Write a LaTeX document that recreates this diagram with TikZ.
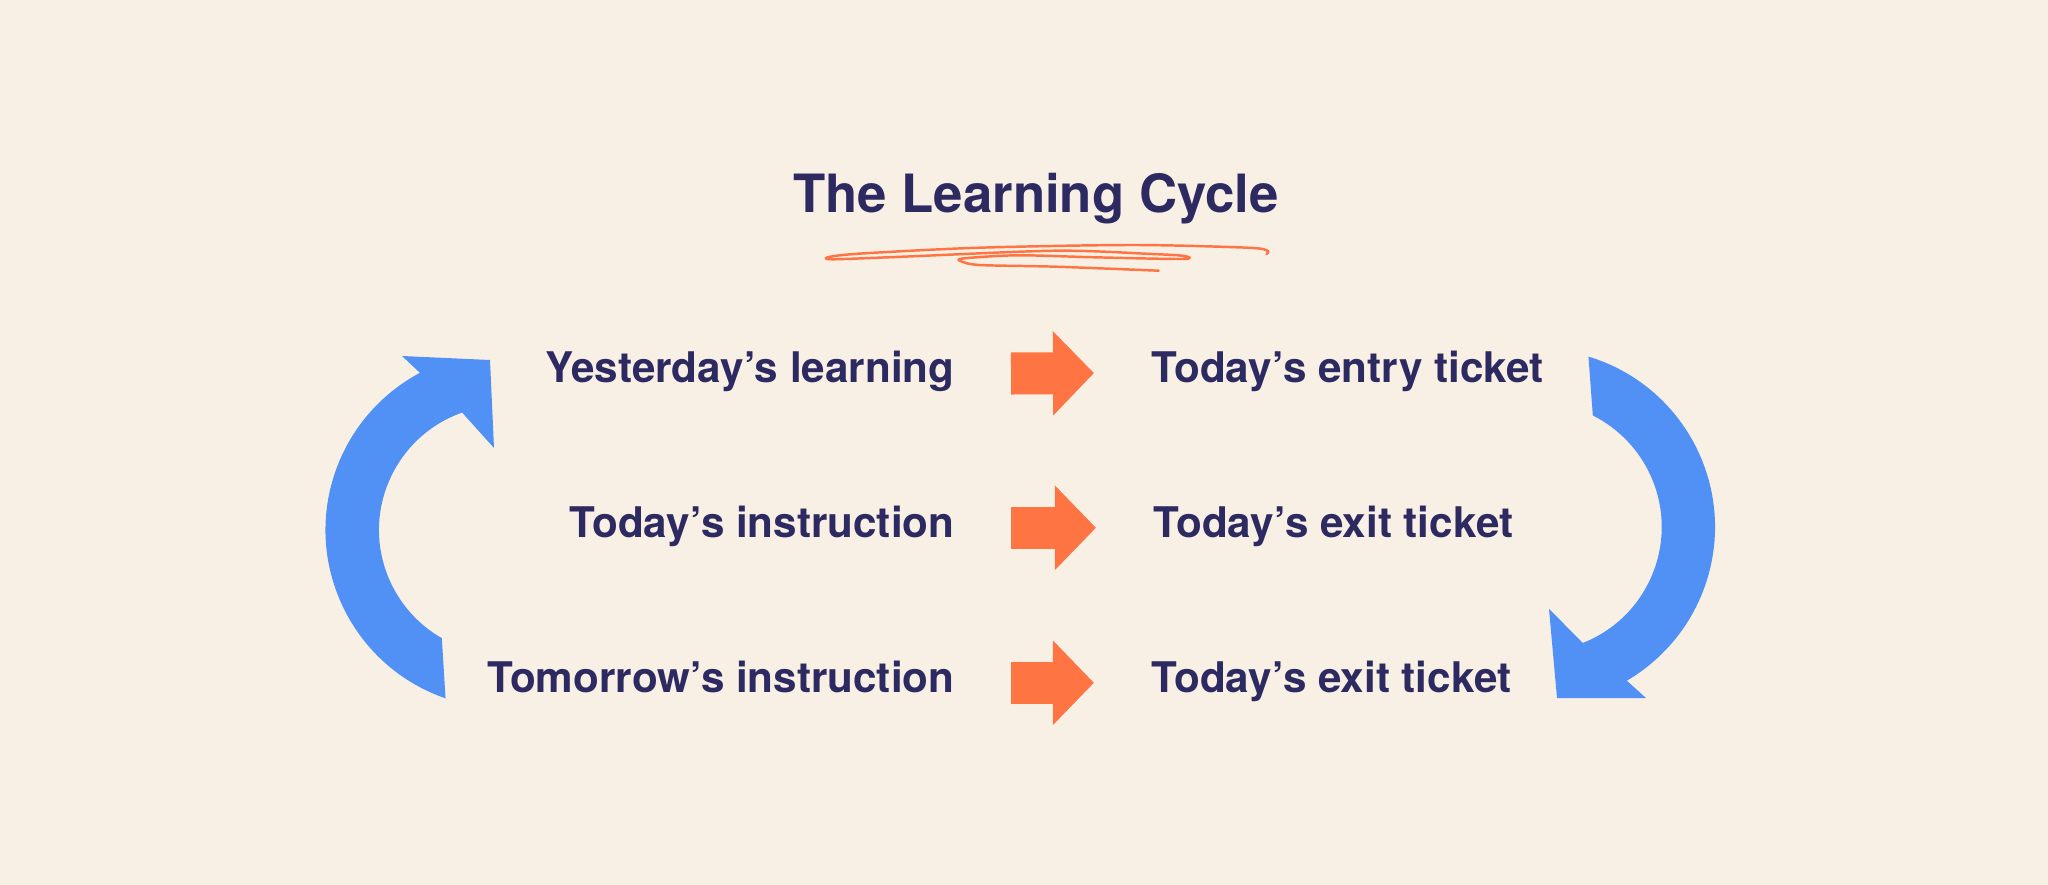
\documentclass[tikz,border=0pt]{standalone}
\usepackage{fontspec}
\setmainfont{TeX Gyre Heros}
\usetikzlibrary{arrows.meta}

\definecolor{paper}{HTML}{F8F0E5}
\definecolor{ink}{HTML}{2D2A62}
\definecolor{coral}{HTML}{FF7443}
\definecolor{sky}{HTML}{5191F5}

\begin{document}
\begin{tikzpicture}[x=0.01cm,y=-0.01cm,
  titletext/.style={anchor=base,inner sep=0,text=ink,font=\bfseries\fontsize{15}{18}\selectfont},
  lefttext/.style={anchor=base east,inner sep=0,text=ink,font=\bfseries\fontsize{12}{14}\selectfont},
  righttext/.style={anchor=base west,inner sep=0,text=ink,font=\bfseries\fontsize{12}{14}\selectfont},
  flowarrow/.style={coral,line width=0.42cm,-{Triangle[width=0.82cm,length=0.41cm]},shorten <=0.56cm,shorten >=0.57cm},
  cyclearrow/.style={fill=sky}]

\fill[paper] (0,0) rectangle (2048,885);
\useasboundingbox (0,0) rectangle (2048,885);

\node[titletext] (title) at (1036,213) {The Learning Cycle};
\draw[coral,line width=0.7pt,line cap=round,line join=round] plot[smooth,tension=0.5] coordinates {
  (1266.6,254) (1267.4,250.7) (1247.5,247.7) (1132.7,245) (979.6,247.7) (864.8,253.3)
  (830.4,256.7) (832.3,259.3) (903,256.7) (1056,250.7) (1151.8,254) (1184.4,256)
  (1182.5,259) (1094.4,257.3) (1017.9,255.3) (964.3,258.3) (960.5,261) (979.6,265)
  (1056,266.7) (1158.7,270.7)};

\node[lefttext] (yest) at (955,383) {Yesterday’s learning};
\node[lefttext] (instr) at (955,537) {Today’s instruction};
\node[lefttext] (tomor) at (955,692) {Tomorrow’s instruction};
\node[righttext] (entry) at (1151,382) {Today’s entry ticket};
\node[righttext] (exit) at (1153,537) {Today’s exit ticket};
\node[righttext] (exitb) at (1151,692) {Today’s exit ticket};

\draw[flowarrow] (yest.mid east) -- (entry.mid west);
\draw[flowarrow] (instr.mid east) -- (exit.mid west);
\draw[flowarrow] (tomor.mid east) -- (exitb.mid west);

% cycle arrows
\coordinate (lc) at (503.5,530);
\coordinate (rc) at (1537,527);
\fill[cyclearrow] ([shift={(109:178)}]lc) arc[start angle=109,end angle=242,radius=178]
  -- (402,356) -- (490,360) -- (494,448)
  -- ([shift={(250.6:124.5)}]lc) arc[start angle=250.6,end angle=119.7,radius=124.5] -- cycle;
\fill[cyclearrow] ([shift={(-73.2:178)}]rc) arc[start angle=-73.2,end angle=59.7,radius=178]
  -- (1646,698) -- (1557,698) -- (1549,609)
  -- ([shift={(68.4:124.7)}]rc) arc[start angle=68.4,end angle=-63.4,radius=124.7] -- cycle;

\end{tikzpicture}
\end{document}
